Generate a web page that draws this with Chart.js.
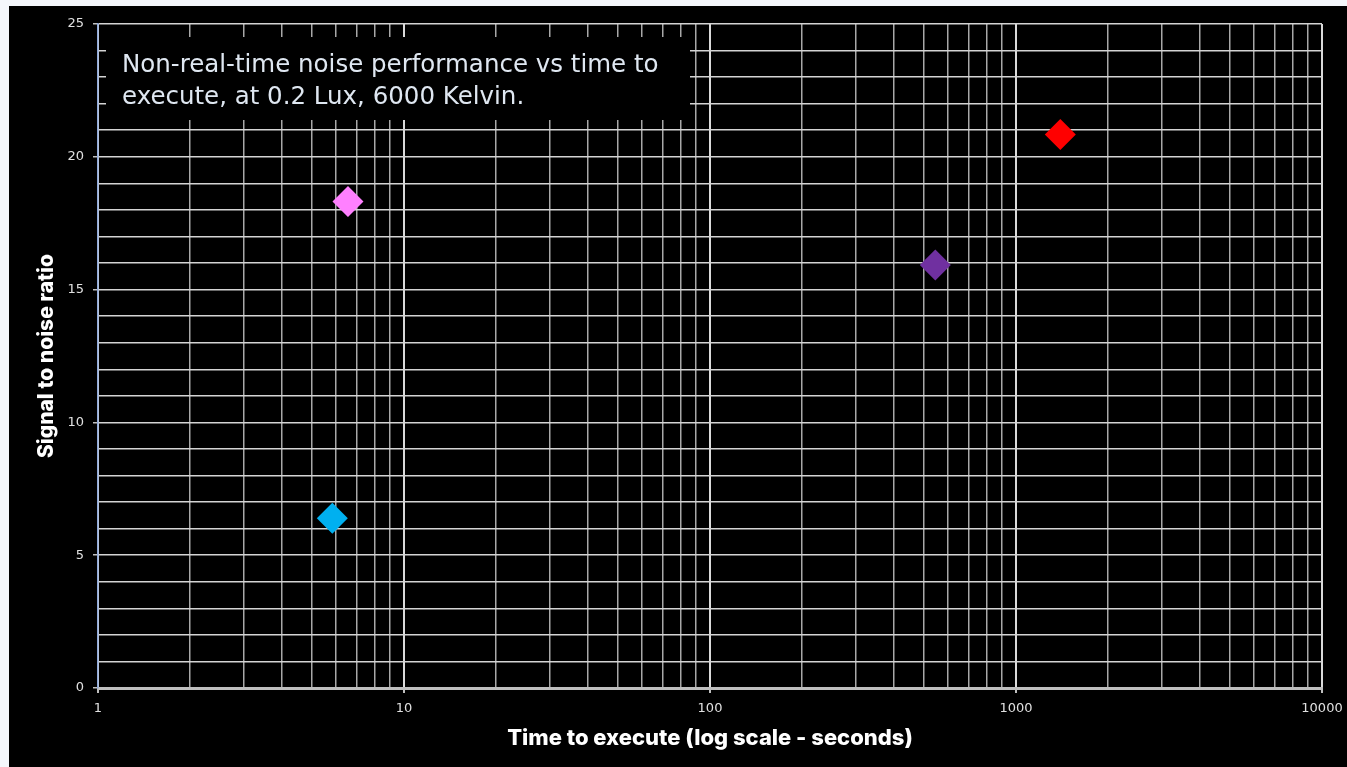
<!DOCTYPE html>
<html>
<head>
<meta charset="utf-8">
<script src="https://cdn.jsdelivr.net/npm/chart.js@4"></script>
<style>
  html, body { margin: 0; padding: 0; background: #f4f7fb; }
  body { width: 1347px; height: 767px; overflow: hidden; position: relative; }
  #panel { position: absolute; left: 9px; top: 6px; width: 1338px; height: 761px; background: #000; }
  #panel canvas { display: block; }
</style>
</head>
<body>
<div id="panel"><canvas id="chart" width="1338" height="761"></canvas></div>
<script>
// Measured runs: execution time (s) and resulting signal-to-noise ratio
const runTimes = [6.56, 5.83, 545, 1396];
const runSnr = [18.32, 6.39, 15.93, 20.84];
const runColors = ['#ff80ff', '#00b0f0', '#7030a0', '#ff0000'];

// Axis ticks
const xTickLabels = ['1', '10', '100', '1000', '10000'];
const yTickLabels = ['0', '5', '10', '15', '20', '25'];

const titleLines = [
  'Non-real-time noise performance vs time to',
  'execute, at 0.2 Lux, 6000 Kelvin.'
];

// Minor grid values for every decade (1..9 × 10^k) plus the last decade edge
const xDecades = xTickLabels.map(Number);
const xGridValues = [];
xDecades.slice(0, -1).forEach(d => { for (let m = 1; m < 10; m++) xGridValues.push(m * d); });
xGridValues.push(xDecades[xDecades.length - 1]);

const isDecade = v => xDecades.includes(v);
const yLabelled = v => yTickLabels.includes(String(v));

// Boxed caption drawn over the upper-left of the plot
const captionBox = {
  id: 'captionBox',
  beforeDatasetsDraw(chart) {
    const ctx = chart.ctx;
    ctx.save();
    ctx.fillStyle = '#000';
    ctx.fillRect(97, 31, 584, 83);
    ctx.fillStyle = '#dfe7f1';
    ctx.font = '24.5px "DejaVu Sans", sans-serif';
    ctx.textBaseline = 'alphabetic';
    ctx.textAlign = 'left';
    ctx.fillText(titleLines[0], 113, 66);
    ctx.fillText(titleLines[1], 113, 98);
    ctx.restore();
  }
};

new Chart(document.getElementById('chart'), {
  type: 'scatter',
  data: {
    datasets: [{
      label: 'Runs',
      data: runTimes.map((t, i) => ({ x: t, y: runSnr[i] })),
      pointStyle: 'rectRot',
      pointRadius: 15.5,
      pointHoverRadius: 15.5,
      pointBackgroundColor: runColors,
      pointBorderColor: runColors,
      pointBorderWidth: 0
    }]
  },
  plugins: [captionBox],
  options: {
    responsive: false,
    animation: false,
    events: [],
    layout: { padding: { top: 18, right: 25, left: 0, bottom: 0 } },
    plugins: { legend: { display: false }, tooltip: { enabled: false } },
    scales: {
      x: {
        type: 'logarithmic',
        min: 1,
        max: 10000,
        afterBuildTicks: s => { s.ticks = xGridValues.map(v => ({ value: v })); },
        afterFit: s => { s.height = 79; s.paddingLeft = 0; s.paddingRight = 0; },
        border: { color: '#bfbfbf', width: 3 },
        grid: {
          color: c => isDecade(c.tick.value) ? '#dadada' : '#a8a8a8',
          lineWidth: c => isDecade(c.tick.value) ? 2 : 1.5,
          drawTicks: true,
          tickLength: 5,
          tickColor: c => isDecade(c.tick.value) ? '#bfbfbf' : 'rgba(0,0,0,0)',
          tickWidth: 2
        },
        ticks: {
          autoSkip: false,
          maxRotation: 0,
          padding: 8,
          color: '#e0e0e0',
          font: { family: '"DejaVu Sans", sans-serif', size: 13 },
          callback: v => isDecade(v) ? xTickLabels[xDecades.indexOf(v)] : ''
        },
        title: {
          display: true,
          text: 'Time to execute (log scale - seconds)',
          color: '#ffffff',
          font: { family: 'Inter, sans-serif', size: 22, weight: '800' },
          padding: { top: 0, bottom: 15 }
        }
      },
      y: {
        min: 0,
        max: 25,
        afterFit: s => { s.width = 89; s.paddingTop = 0; s.paddingBottom = 0; },
        border: { color: '#8ea9db', width: 1.5 },
        grid: {
          color: '#d4d4d4',
          lineWidth: 1.5,
          drawTicks: true,
          tickLength: 5,
          tickColor: c => yLabelled(c.tick.value) ? '#bfbfbf' : 'rgba(0,0,0,0)',
          tickWidth: 1.5
        },
        ticks: {
          stepSize: 1,
          autoSkip: false,
          padding: 9,
          color: '#e0e0e0',
          font: { family: '"DejaVu Sans", sans-serif', size: 13 },
          callback: v => yLabelled(v) ? String(v) : ''
        },
        title: {
          display: true,
          text: 'Signal to noise ratio',
          color: '#ffffff',
          font: { family: 'Inter, sans-serif', size: 21, weight: '800' },
          padding: { top: 25, bottom: 0 }
        }
      }
    }
  }
});
</script>
</body>
</html>
